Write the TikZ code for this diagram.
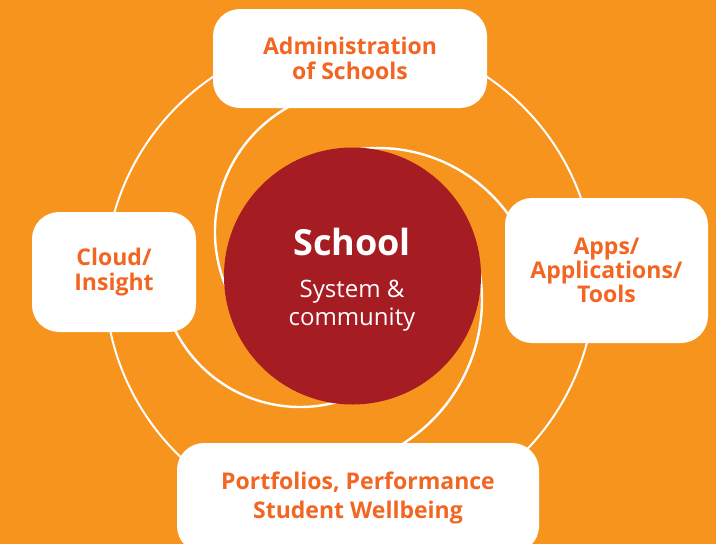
\documentclass[tikz,border=0pt]{standalone}
\usepackage{fontspec}
\setmainfont{Open Sans}
\definecolor{bgorange}{HTML}{F7941E}
\definecolor{schoolred}{HTML}{A51C22}
\definecolor{txtorange}{HTML}{F26522}
\begin{document}
\begin{tikzpicture}[x=1pt,y=1pt,
  wline/.style={draw=white, line width=2.4pt},
  olabel/.style={fill=white, rounded corners=27pt, inner sep=0pt, align=center,
    text=txtorange, font=\fontsize{23}{25}\selectfont\bfseries},
]
\useasboundingbox (0,0) rectangle (716,-544);
\clip (0,0) rectangle (716,-544);
\fill[bgorange] (0,0) rectangle (716,-544);
% outer circle
\draw[draw=white, line width=2pt] (350,-280) circle[radius=245];
% inner arcs
\draw[wline] (358,-232) ++(105:143) arc[start angle=105, end angle=230, radius=143];
\draw[wline] (378,-309) ++(120:161) arc[start angle=120, end angle=25, radius=161];
\draw[wline] (312,-300) ++(30:170) arc[start angle=30, end angle=-65, radius=170];
\draw[wline] (300,-267) ++(200:140) arc[start angle=200, end angle=310, radius=140];
% centre
\node[circle, fill=schoolred, minimum size=257pt, inner sep=0pt] (school) at (352.5,-276) {};
\node[anchor=base, text=white, font=\fontsize{36}{40}\selectfont\bfseries] (t1) at (352,-255) {School};
\node[anchor=base, text=white, font=\fontsize{24}{28}\selectfont] (t2) at (352,-297) {System \&};
\node[anchor=base, text=white, font=\fontsize{24}{28}\selectfont] (t3) at (352,-325) {community};
% boxes
\node[olabel, minimum width=274pt, minimum height=99pt] (admin) at (350,-58.5) {Administration\\of Schools};
\node[olabel, minimum width=164pt, minimum height=120pt] (cloud) at (114,-272) {Cloud/\\Insight};
\node[olabel, minimum width=203pt, minimum height=145pt, font=\fontsize{23}{24}\selectfont\bfseries] (apps) at (606.5,-270.5) {Apps/\\Applications/\\Tools};
\node[olabel, minimum width=362pt, minimum height=110pt, font=\fontsize{23}{29}\selectfont\bfseries] (port) at (358,-498) {Portfolios, Performance\\Student Wellbeing};
\end{tikzpicture}
\end{document}
